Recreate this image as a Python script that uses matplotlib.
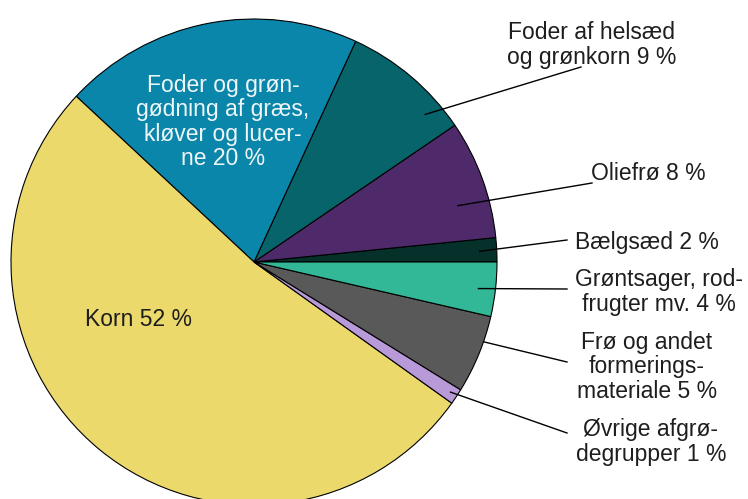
import numpy as np
import matplotlib
matplotlib.use("Agg")
import matplotlib.pyplot as plt

plt.rcParams['font.family'] = ['Liberation Sans', 'DejaVu Sans']

# Data (counter-clockwise from 3 o'clock)
labels = [
    "Bælgsæd 2 %",
    "Oliefrø 8 %",
    "Foder af helsæd\nog grønkorn 9 %",
    "Foder og grøn-\ngødning af græs,\nkløver og lucer-\nne 20 %",
    "Korn 52 %",
    "Øvrige afgrø-\ndegrupper 1 %",
    "Frø og andet\nformerings-\nmateriale 5 %",
    "Grøntsager, rod-\nfrugter mv. 4 %",
]
shares = [1.6, 7.9, 8.6, 19.9, 52.0, 1.05, 5.2, 3.6]
colors = ["#06302a", "#4e2a6b", "#06646a", "#0b86ab", "#ecd96c",
          "#b99ad8", "#595959", "#33b897"]

# figure in pixel coordinates
fig = plt.figure(figsize=(7.48, 4.99), dpi=100)
ax = fig.add_axes([0, 0, 1, 1])

cx, cy, R = 254, 499 - 262, 243

wedges, _ = ax.pie(shares, colors=colors, startangle=0, radius=R, center=(cx, cy),
                   frame=True,
                   wedgeprops=dict(edgecolor='black', linewidth=0.8))
ax.set_xlim(0, 748)
ax.set_ylim(0, 499)
ax.axis('off')

fs = 16.5
ls = 1.07
txt = '#1e1e1e'

# inside labels
ax.text(223, 499 - 122, labels[3], ha='center', va='center', fontsize=fs,
        color='#eef6f8', linespacing=ls)
ax.text(139, 499 - 320, labels[4], ha='center', va='center', fontsize=fs,
        color=txt)

# outside labels: (index, fraction in wedge, radius fraction, text pos, line end)
outside = [
    (2, 0.21, 0.93, (592, 45), (581, 67)),
    (1, 0.34, 0.87, (648, 173), (592, 183)),
    (0, 0.47, 0.93, (647, 242), (567, 240)),
    (7, 0.48, 0.93, (659, 292), (567, 289)),
    (6, 0.67, 1.00, (647, 367), (567, 362)),
    (5, 0.53, 0.97, (651, 442), (567, 433)),
]
for i, f, rf, (tx, ty), (ex, ey) in outside:
    w = wedges[i]
    ang = np.deg2rad(w.theta1 + f * (w.theta2 - w.theta1))
    sx = cx + rf * R * np.cos(ang)
    sy = cy + rf * R * np.sin(ang)
    ax.plot([sx, ex], [sy, 499 - ey], color='black', linewidth=1.0)
    ax.text(tx, 499 - ty, labels[i], ha='center', va='center', fontsize=fs,
            color=txt, linespacing=ls)

fig.savefig("out.png", dpi=100)
